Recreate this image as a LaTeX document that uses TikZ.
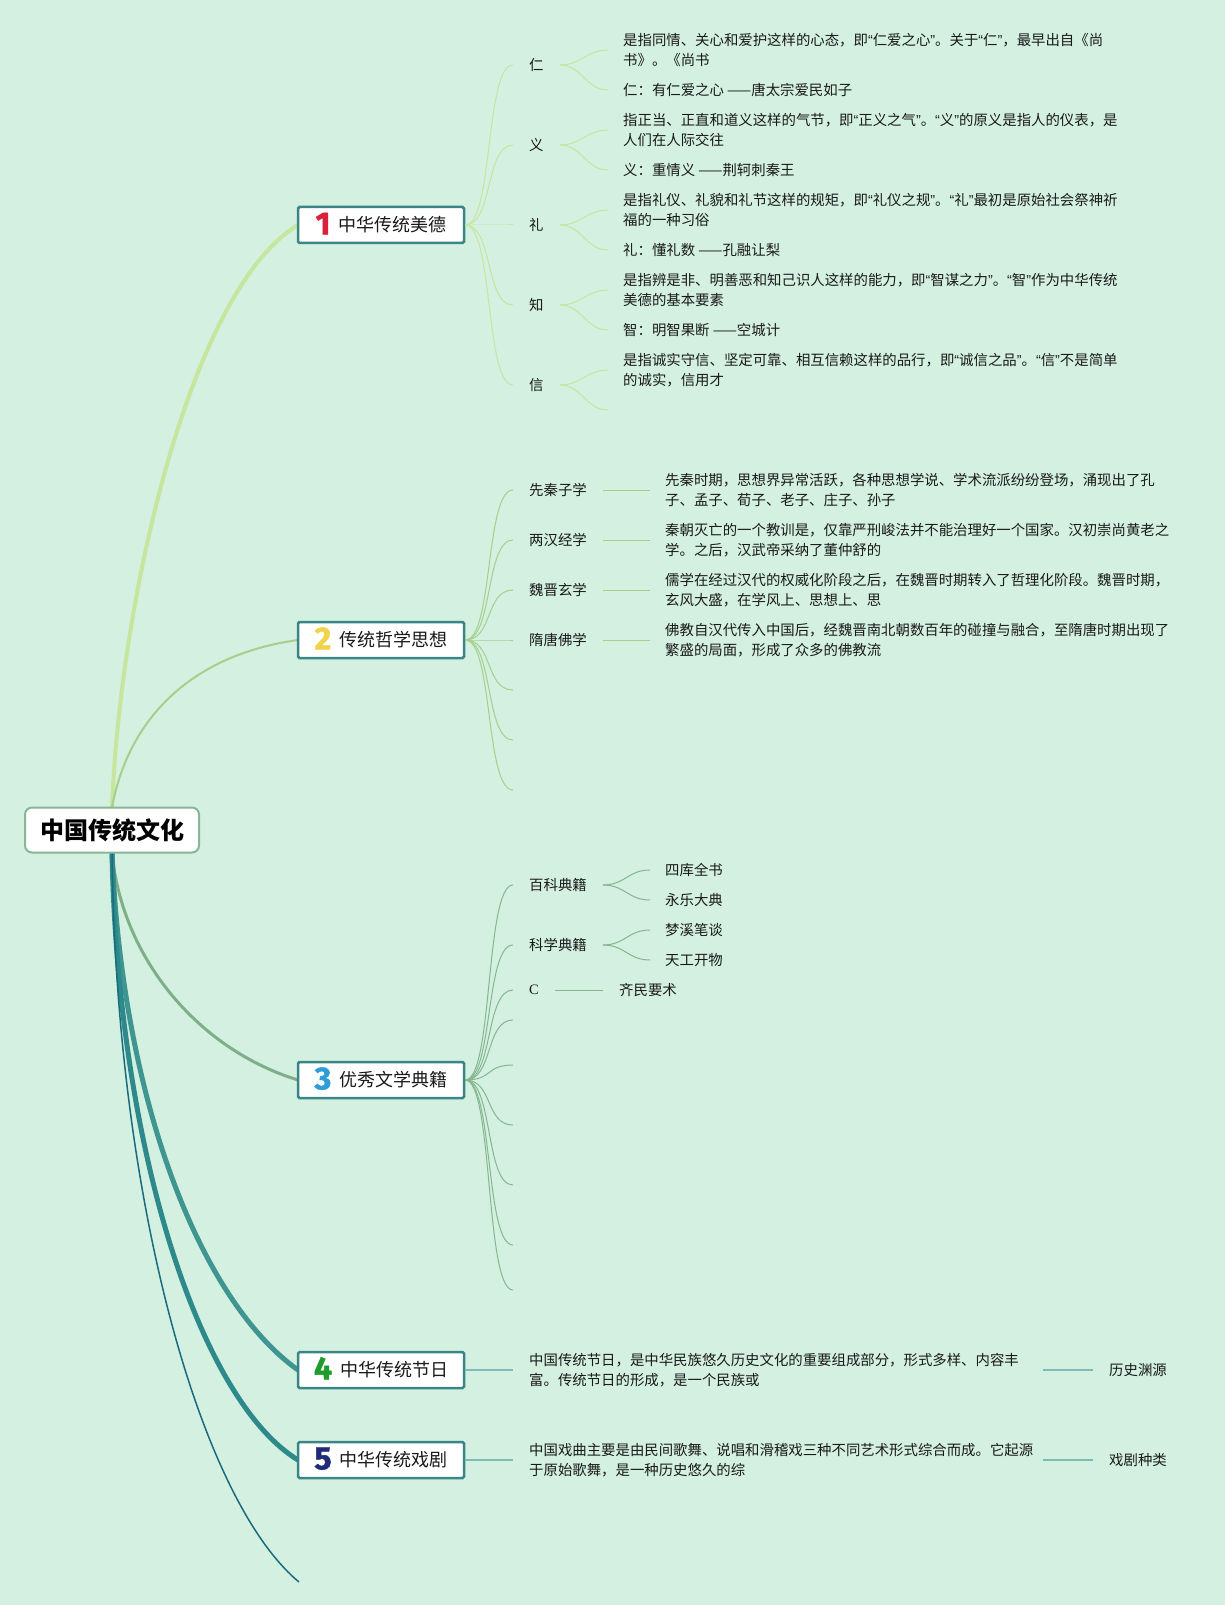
\documentclass[tikz,border=0pt]{standalone}
\usepackage{fontspec}
\setmainfont{Noto Sans CJK SC}
\newfontfamily\numfont[BoldFeatures={FakeBold=1.5}]{Fira Sans}
\newfontfamily\serifC{Liberation Serif}
\newfontfamily\quotefont{Liberation Sans}
\newcommand\qo{{\quotefont “}}
\newcommand\qc{{\quotefont ”}}

\definecolor{bgmint}{HTML}{D3F0E1}
\definecolor{br1}{HTML}{C6E69E}
\definecolor{br2}{HTML}{A6CF8A}
\definecolor{br3}{HTML}{7EAF88}
\definecolor{br4}{HTML}{3F9590}
\definecolor{br5}{HTML}{2E8A8A}
\definecolor{br6}{HTML}{1A6B7E}
\definecolor{boxline}{HTML}{3A8686}
\definecolor{rootline}{HTML}{88B797}
\definecolor{twig3}{HTML}{86B690}
\definecolor{twig4}{HTML}{7DBDB8}
\definecolor{inkdark}{HTML}{1A1A1A}
\definecolor{numred}{HTML}{D8213B}
\definecolor{numyellow}{HTML}{F2D24A}
\definecolor{numblue}{HTML}{2D9CDB}
\definecolor{numgreen}{HTML}{1E9C2C}
\definecolor{numnavy}{HTML}{1F2A78}

\newcommand\bignum[2]{\smash{\raisebox{-2.5pt}{\numfont\bfseries\fontsize{32}{32}\selectfont\color{#1}#2}}\hspace{8pt}}

\tikzset{
	rootbox/.style={draw=rootline, line width=2pt, fill=white, rounded corners=7pt,
		minimum width=174pt, minimum height=45pt, inner sep=0pt, text=black,
		font=\fontsize{24}{24}\selectfont\bfseries},
	mainbox/.style={draw=boxline, line width=2.5pt, fill=white, rounded corners=1.5pt,
		minimum width=166pt, minimum height=36pt, inner sep=0pt, text=inkdark,
		font=\fontsize{18}{18}\selectfont},
	tag/.style={anchor=west, inner xsep=16pt, inner ysep=2pt, text=inkdark,
		font=\fontsize{14.4}{20}\selectfont},
	leaf/.style={tag, inner xsep=15pt, align=left},
	twig1/.style={draw=br1, line width=1pt},
	twig2/.style={draw=br2, line width=1pt},
	twig3/.style={draw=twig3, line width=1pt},
	twig4/.style={draw=twig4, line width=1.5pt}
}

\begin{document}
\begin{tikzpicture}[x=1pt,y=-1pt]
	%%%%% START %%%%%
	\fill[bgmint] (0,0) rectangle (1225,1605);
	\useasboundingbox (0,0) rectangle (1225,1605);

	% main branches
	\coordinate (rtop) at (112,807.5);
	\coordinate (rbot) at (112,852.5);
	\coordinate (e1) at (298,225);
	\coordinate (e2) at (298,640);
	\coordinate (e3) at (298,1080);
	\coordinate (e4) at (298,1370);
	\coordinate (e5) at (298,1460);
	\coordinate (e6) at (299,1582);

	\draw[br1, line width=4pt] (rtop) .. controls (120,600) and (190,290) .. (e1);
	\draw[br2, line width=2pt] (rtop) .. controls (128,720) and (190,655) .. (e2);
	\draw[br3, line width=3pt] (rbot) .. controls (122,960) and (200,1050) .. (e3);
	\draw[br4, line width=5pt] (rbot) .. controls (122,1100) and (200,1300) .. (e4);
	\draw[br5, line width=5pt] (rbot) .. controls (118,1150) and (200,1400) .. (e5);
	\draw[br6, line width=1.5pt] (rbot) .. controls (116,1200) and (200,1500) .. (e6);

	\node[rootbox] (root) at (112,830) {中国传统文化};

	\node[mainbox] (b1) at (381,225) {\bignum{numred}{1}中华传统美德};
	\node[mainbox] (b2) at (381,640) {\bignum{numyellow}{2}传统哲学思想};
	\node[mainbox] (b3) at (381,1080) {\bignum{numblue}{3}优秀文学典籍};
	\node[mainbox] (b4) at (381,1370) {\bignum{numgreen}{4}中华传统节日};
	\node[mainbox] (b5) at (381,1460) {\bignum{numnavy}{5}中华传统戏剧};

	% 1
	\node[tag] (k1) at (513,65) {仁};
	\node[tag] (k2) at (513,145) {义};
	\node[tag] (k3) at (513,225) {礼};
	\node[tag] (k4) at (513,305) {知};
	\node[tag] (k5) at (513,385) {信};

	\node[leaf] (l11) at (608,50) {是指同情、关心和爱护这样的心态，即\qo 仁爱之心\qc。关于\qo 仁\qc，最早出自《尚\\书》。《尚书};
	\node[leaf] (l12) at (608,90) {仁：有仁爱之心 ——唐太宗爱民如子};
	\node[leaf] (l21) at (608,130) {指正当、正直和道义这样的气节，即\qo 正义之气\qc。\qo 义\qc 的原义是指人的仪表，是\\人们在人际交往};
	\node[leaf] (l22) at (608,170) {义：重情义 ——荆轲刺秦王};
	\node[leaf] (l31) at (608,210) {是指礼仪、礼貌和礼节这样的规矩，即\qo 礼仪之规\qc。\qo 礼\qc 最初是原始社会祭神祈\\福的一种习俗};
	\node[leaf] (l32) at (608,250) {礼：懂礼数 ——孔融让梨};
	\node[leaf] (l41) at (608,290) {是指辨是非、明善恶和知己识人这样的能力，即\qo 智谋之力\qc。\qo 智\qc 作为中华传统\\美德的基本要素};
	\node[leaf] (l42) at (608,330) {智：明智果断 ——空城计};
	\node[leaf] (l51) at (608,370) {是指诚实守信、坚定可靠、相互信赖这样的品行，即\qo 诚信之品\qc。\qo 信\qc 不是简单\\的诚实，信用才};
	\coordinate (l52) at (608,410);

	\foreach \k in {1,...,5}
		\draw[twig1] (b1.east) .. controls +(28,0) and +(-28,0) .. (k\k.west);
	\foreach \k in {1,...,4} {
		\draw[twig1] (k\k.east) .. controls +(22,0) and +(-22,0) .. (l\k1.west);
		\draw[twig1] (k\k.east) .. controls +(22,0) and +(-22,0) .. (l\k2.west);
	}
	\draw[twig1] (k5.east) .. controls +(22,0) and +(-22,0) .. (l51.west);
	\draw[twig1] (k5.east) .. controls +(22,0) and +(-22,0) .. (l52);

	% 2
	\node[tag] (p1) at (513,490) {先秦子学};
	\node[tag] (p2) at (513,540) {两汉经学};
	\node[tag] (p3) at (513,590) {魏晋玄学};
	\node[tag] (p4) at (513,640) {隋唐佛学};
	\coordinate (p5) at (513,690);
	\coordinate (p6) at (513,740);
	\coordinate (p7) at (513,790);

	\node[leaf] (d1) at (650,490) {先秦时期，思想界异常活跃，各种思想学说、学术流派纷纷登场，涌现出了孔\\子、孟子、荀子、老子、庄子、孙子};
	\node[leaf] (d2) at (650,540) {秦朝灭亡的一个教训是，仅靠严刑峻法并不能治理好一个国家。汉初崇尚黄老之\\学。之后，汉武帝采纳了董仲舒的};
	\node[leaf] (d3) at (650,590) {儒学在经过汉代的权威化阶段之后，在魏晋时期转入了哲理化阶段。魏晋时期，\\玄风大盛，在学风上、思想上、思};
	\node[leaf] (d4) at (650,640) {佛教自汉代传入中国后，经魏晋南北朝数百年的碰撞与融合，至隋唐时期出现了\\繁盛的局面，形成了众多的佛教流};

	\foreach \k in {1,...,4} {
		\draw[twig2] (b2.east) .. controls +(28,0) and +(-28,0) .. (p\k.west);
		\draw[twig2] (p\k.east) -- (d\k.west);
	}
	\foreach \k in {5,6,7}
		\draw[twig2] (b2.east) .. controls +(28,0) and +(-28,0) .. (p\k);

	% 3
	\node[tag] (q1) at (513,885) {百科典籍};
	\node[tag] (q2) at (513,945) {科学典籍};
	\node[tag] (q3) at (513,990) {\serifC C};
	\foreach \y [count=\i from 4] in {1020,1065,1125,1185,1245,1290}
		\coordinate (q\i) at (513,\y);

	\node[leaf] (s11) at (650,870) {四库全书};
	\node[leaf] (s12) at (650,900) {永乐大典};
	\node[leaf] (s21) at (650,930) {梦溪笔谈};
	\node[leaf] (s22) at (650,960) {天工开物};
	\node[leaf, inner xsep=16pt] (s31) at (603,990) {齐民要术};

	\foreach \k in {1,2,3}
		\draw[twig3] (b3.east) .. controls +(28,0) and +(-28,0) .. (q\k.west);
	\foreach \k in {4,...,9}
		\draw[twig3] (b3.east) .. controls +(28,0) and +(-28,0) .. (q\k);
	\foreach \k in {1,2} {
		\draw[twig3] (q\k.east) .. controls +(22,0) and +(-22,0) .. (s\k1.west);
		\draw[twig3] (q\k.east) .. controls +(22,0) and +(-22,0) .. (s\k2.west);
	}
	\draw[twig3] (q3.east) -- (s31.west);

	% 4, 5
	\node[leaf, text width=498pt, inner xsep=16pt] (t4) at (513,1370) {中国传统节日，是中华民族悠久历史文化的重要组成部分，形式多样、内容丰\\富。传统节日的形成，是一个民族或};
	\node[tag] (h4) at (1093,1370) {历史渊源};
	\node[leaf, text width=498pt, inner xsep=16pt] (t5) at (513,1460) {中国戏曲主要是由民间歌舞、说唱和滑稽戏三种不同艺术形式综合而成。它起源\\于原始歌舞，是一种历史悠久的综};
	\node[tag] (h5) at (1093,1460) {戏剧种类};

	\draw[twig4] (b4.east) -- (t4.west);
	\draw[twig4] (t4.east) -- (h4.west);
	\draw[twig4] (b5.east) -- (t5.west);
	\draw[twig4] (t5.east) -- (h5.west);
	%%%%% END %%%%%
\end{tikzpicture}
\end{document}
